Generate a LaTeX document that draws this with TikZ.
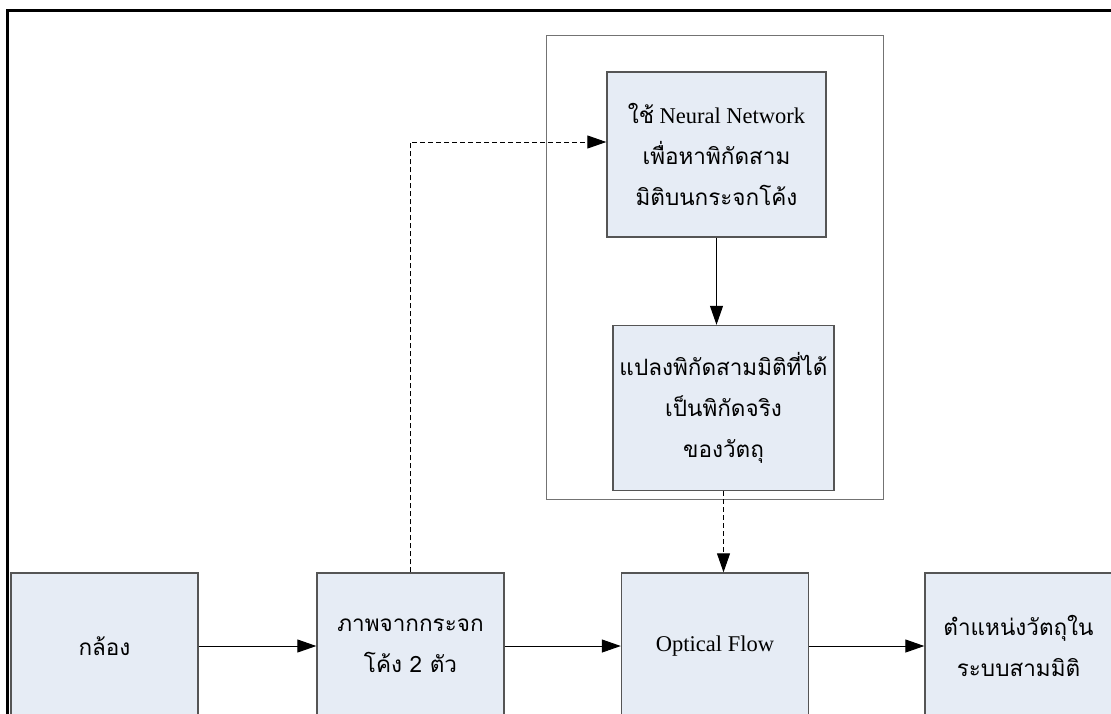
\documentclass[tikz,border=0pt]{standalone}
\usepackage{fontspec}
\setmainfont{Liberation Serif}
\newfontfamily\thaifont[Script=Thai]{Loma}
\usetikzlibrary{arrows.meta}
\definecolor{flowFill}{HTML}{E6ECF5}
\definecolor{flowLine}{HTML}{555555}
\tikzset{
  box/.style={draw=flowLine,fill=flowFill,line width=0.7pt,
    minimum width=93.5pt,minimum height=73pt,align=center,
    font=\fontsize{11.25}{20.5}\selectfont},
  bigbox/.style={box,minimum width=109.5pt,minimum height=82.5pt},
  arrow/.style={-{Triangle[length=9.5pt,width=6.5pt]},line width=0.5pt,draw=black},
  dasharrow/.style={arrow,dash pattern=on 2.5pt off 1.5pt}
}

\begin{document}
\begin{tikzpicture}[x=0.5pt,y=-0.5pt]
  \clip (0,0) rectangle (1111,713);
  \fill[white] (0,0) rectangle (1111,713);
  \draw[line width=1.5pt] (7,10) rectangle (1140,740);
  \draw[draw=black!55,line width=0.5pt] (546,35) rectangle (883,499);

  % upper steps
  \node[bigbox] (nn) at (716.5,154.5)
    {{\thaifont ใช้} Neural Network\\{\thaifont เพื่อหาพิกัดสาม}\\{\thaifont มิติบนกระจกโค้ง}};
  \node[bigbox] (conv) at (723.5,408)
    {{\thaifont แปลงพิกัดสามมิติที่ได้}\\{\thaifont เป็นพิกัดจริง}\\{\thaifont ของวัตถุ}};

  % main row
  \node[box] (cam) at (104.5,646) {{\thaifont กล้อง}};
  \node[box] (mirror) at (410.5,646) {{\thaifont ภาพจากกระจก}\\{\thaifont โค้ง 2 ตัว}};
  \node[box] (flow) at (715,646) {Optical Flow};
  \node[box] (pos) at (1018.5,646) {{\thaifont ตำแหน่งวัตถุใน}\\{\thaifont ระบบสามมิติ}};

  \draw[arrow] (cam) -- (mirror);
  \draw[arrow] (mirror) -- (flow);
  \draw[arrow] (flow) -- (pos);
  \draw[arrow] (nn.south) -- (nn.south |- conv.north);
  \draw[dasharrow] (conv.south) -- (conv.south |- flow.north);
  \draw[dasharrow] (mirror.north) |- ([yshift=6.25pt]nn.west);
\end{tikzpicture}
\end{document}
